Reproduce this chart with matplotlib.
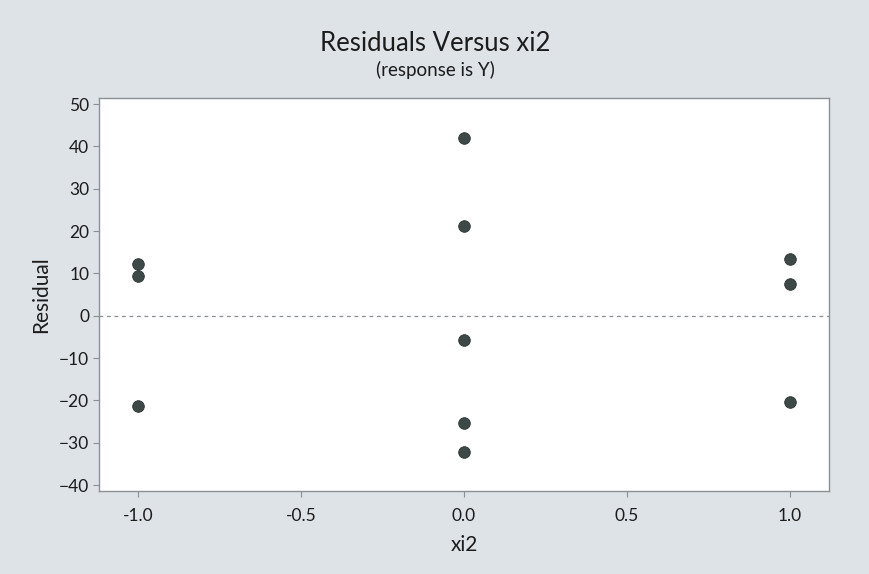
import matplotlib
matplotlib.use('Agg')
import matplotlib.pyplot as plt

# residuals grouped by xi2 level
xi2 = [-1.0, -1.0, -1.0, 0.0, 0.0, 0.0, 0.0, 0.0, 1.0, 1.0, 1.0]
residual = [12.3, 9.4, -21.4, 42.0, 21.3, -5.7, -25.4, -32.1, 13.4, 7.5, -20.3]

x_ticks = [-1.0, -0.5, 0.0, 0.5, 1.0]
y_ticks = [-40, -30, -20, -10, 0, 10, 20, 30, 40, 50]

plt.rcParams['font.family'] = ['Lato', 'DejaVu Sans']

bg = '#dee3e7'
txt = '#1c1c1c'
fig = plt.figure(figsize=(8.7, 5.74), dpi=100, facecolor=bg)
ax = fig.add_axes([0.1138, 0.1446, 0.839, 0.685])
ax.set_facecolor('white')

ax.axhline(0, color='#8a8f94', linestyle=(0, (3, 3)), linewidth=0.9, zorder=1)
ax.scatter(xi2, residual, s=70, color='#3d4947', edgecolors='#2c3533',
           linewidths=0.6, zorder=3)

ax.set_xlim(-1.12, 1.12)
ax.set_ylim(-41.4, 51.5)
ax.set_xticks(x_ticks)
ax.set_xticklabels(['%.1f' % v for v in x_ticks])
ax.set_yticks(y_ticks)

for side in ['top', 'right', 'left', 'bottom']:
    ax.spines[side].set_color('#8c9094')
    ax.spines[side].set_linewidth(1.0)
ax.tick_params(axis='both', direction='out', length=4, width=0.8,
               color='#8c9094', labelsize=12.5, labelcolor=txt)
ax.tick_params(axis='x', pad=8)
ax.tick_params(axis='y', pad=3)

ax.set_xlabel('xi2', fontsize=15, color=txt, labelpad=8)
ax.set_ylabel('Residual', fontsize=15, color=txt, labelpad=6)

fig.text(0.5, 0.925, 'Residuals Versus xi2', ha='center', va='center',
         fontsize=18.5, color=txt)
fig.text(0.5, 0.878, '(response is Y)', ha='center', va='center',
         fontsize=13.5, color=txt)

fig.savefig('out.png', dpi=100, facecolor=bg)
